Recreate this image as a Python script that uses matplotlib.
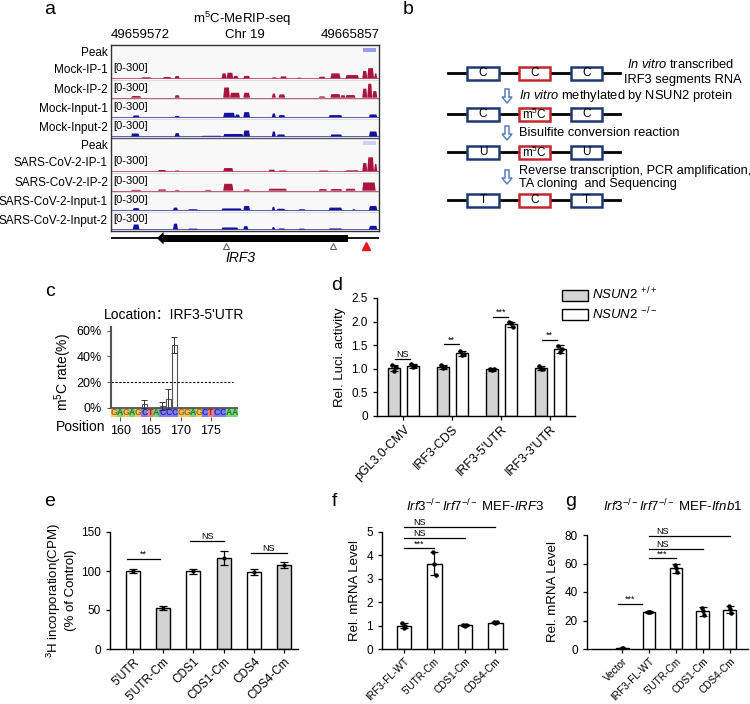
import matplotlib.pyplot as plt
from matplotlib.patches import Rectangle, FancyArrow, Polygon

plt.rcParams['font.family'] = ['Liberation Sans', 'DejaVu Sans']
plt.rcParams['mathtext.fontset'] = 'custom'
plt.rcParams['mathtext.rm'] = 'Liberation Sans'
plt.rcParams['mathtext.it'] = 'Liberation Sans:italic'
plt.rcParams['mathtext.bf'] = 'Liberation Sans:bold'

W, H = 750, 704

# ---- panel a: coverage blocks (start, end, height 0-1 of [0-300]) on an 800-bin window
mock_ip1 = [(90, 120, .06), (155, 180, .08), (190, 205, .14), (330, 345, .3), (345, 365, .34),
            (365, 380, .15), (395, 415, .15), (480, 495, .06), (505, 525, .12), (555, 570, .04),
            (620, 640, .1), (655, 685, .3), (700, 740, .2), (750, 765, .45), (765, 785, .62), (785, 795, .3)]
mock_ip2 = [(60, 90, .1), (190, 205, .15), (335, 355, .62), (355, 385, .3), (395, 415, .3),
            (480, 492, .25), (500, 520, .2), (620, 640, .08), (655, 685, .22), (685, 700, .15),
            (700, 730, .16), (750, 765, .55), (765, 780, .85), (780, 795, .4)]
mock_in1 = [(65, 85, .1), (190, 205, .07), (335, 370, .26), (370, 385, .15), (395, 415, .3),
            (480, 492, .22), (500, 520, .12), (650, 690, .12), (770, 795, .16)]
mock_in2 = [(60, 85, .18), (190, 205, .2), (270, 330, .04), (335, 395, .15), (395, 415, .36),
            (480, 492, .3), (495, 520, .12), (655, 690, .12), (770, 795, .3)]
sars_ip1 = [(140, 165, .08), (190, 205, .05), (335, 365, .2), (470, 490, .1), (500, 525, .05),
            (620, 650, .05), (700, 740, .06), (750, 765, .5), (765, 785, .85), (785, 795, .45)]
sars_ip2 = [(60, 90, .05), (140, 165, .08), (190, 205, .05), (280, 300, .05), (335, 365, .42),
            (395, 415, .08), (470, 525, .12), (620, 645, .1), (655, 690, .1), (700, 730, .12),
            (750, 790, .5)]
sars_in1 = [(65, 85, .12), (185, 200, .15), (230, 260, .05), (330, 390, .1), (395, 415, .25),
            (480, 490, .2), (495, 520, .08), (560, 580, .05), (650, 690, .15), (720, 730, .05),
            (770, 795, .25)]
sars_in2 = [(65, 85, .3), (185, 200, .35), (230, 260, .05), (330, 380, .12), (395, 410, .2),
            (480, 490, .15), (500, 520, .06), (560, 580, .05), (650, 690, .06), (770, 795, .22)]
mock_peak = [(752, 790)]
sars_peak = [(752, 790)]
irf3_gene = (153, 707)
hollow_sites = [342, 662]
red_sites = [761]

# ---- panel c
seq = 'GAGAGCTACCCGGAGCTCCAA'
seq_start = 159
c_pos = [164, 167, 168, 169]
c_rate = [3, 1.5, 7, 49]
c_err = [3, 3, 8, 6]

# ---- panel d
d_labels = ['pGL3.0-CMV', 'IRF3-CDS', "IRF3-5'UTR", "IRF3-3'UTR"]
d_wt = [1.02, 1.04, 0.99, 1.01]
d_wt_err = [0.07, 0.04, 0.03, 0.04]
d_wt_reps = [[1.08, 0.95, 1.03], [1.08, 1.01, 1.03], [1.0, 0.98, 1.0], [1.05, 1.0, 0.99]]
d_ko = [1.06, 1.33, 1.94, 1.42]
d_ko_err = [0.04, 0.05, 0.06, 0.08]
d_ko_reps = [[1.1, 1.03, 1.06], [1.38, 1.3, 1.32], [2.0, 1.98, 1.88], [1.49, 1.36, 1.43]]

# ---- panel e
e_labels = ["5'UTR", "5'UTR-Cm", 'CDS1', 'CDS1-Cm', 'CDS4', 'CDS4-Cm']
e_vals = [100, 52.5, 99.5, 117, 99, 108]
e_err = [2, 2, 3.5, 9, 4, 4]

# ---- panel f
f_labels = ['IRF3-FL-WT', "5'UTR-Cm", 'CDS1-Cm', 'CDS4-Cm']
f_vals = [1.0, 3.65, 1.02, 1.13]
f_err = [0.12, 0.5, 0.04, 0.04]
f_reps = [[1.1, 0.9, 1.0], [4.15, 3.65, 3.15], [1.03, 1.0, 1.04], [1.15, 1.12, 1.14]]

# ---- panel g
g_labels = ['Vector', 'IRF3-FL-WT', "5'UTR-Cm", 'CDS1-Cm', 'CDS4-Cm']
g_vals = [0.5, 26, 56.5, 26.5, 27.5]
g_err = [0.5, 0.5, 3, 3, 2.5]
g_reps = [[0.3, 0.7, 0.6], [26, 26.3, 25.8], [59, 57, 54], [29, 27, 24], [30, 28, 25]]

RED = '#a8163f'
BLUE = '#12129a'

fig = plt.figure(figsize=(W / 100, H / 100), dpi=100)


def px_axes(l, t, r, b):
    return fig.add_axes([l / W, 1 - b / H, (r - l) / W, (b - t) / H])


ax0 = fig.add_axes([0, 0, 1, 1])
ax0.set_xlim(0, W)
ax0.set_ylim(H, 0)
ax0.axis('off')

for lab, x, y in [('a', 50, 10), ('b', 408, 10), ('c', 50, 292), ('d', 337, 286),
                  ('e', 50, 502), ('f', 334, 502), ('g', 571, 502)]:
    ax0.text(x, y, lab, fontsize=14, ha='center', va='center')

# ================= panel a
ax0.text(242, 19, 'm$^5$C-MeRIP-seq', fontsize=9.5, ha='center', va='center')
ax0.text(140, 35, '49659572', fontsize=9.5, ha='center', va='center')
ax0.text(245, 35, 'Chr 19', fontsize=9.5, ha='center', va='center')
ax0.text(350, 35, '49665857', fontsize=9.5, ha='center', va='center')

axa = px_axes(111, 45, 379, 231)
axa.set_xlim(0, 800)
axa.set_ylim(9.6, 0)
axa.set_facecolor('#f8f8f9')
axa.set_xticks([])
axa.set_yticks([])
for s in axa.spines.values():
    s.set_color('#333333')
    s.set_linewidth(1.0)

layout = [('peak', 'Peak', mock_peak, '#9c9cee'),
          ('track', 'Mock-IP-1', mock_ip1, RED),
          ('track', 'Mock-IP-2', mock_ip2, RED),
          ('track', 'Mock-Input-1', mock_in1, BLUE),
          ('track', 'Mock-Input-2', mock_in2, BLUE),
          ('peak', 'Peak', sars_peak, '#d0d0f6'),
          ('track', 'SARS-CoV-2-IP-1', sars_ip1, RED),
          ('track', 'SARS-CoV-2-IP-2', sars_ip2, RED),
          ('track', 'SARS-CoV-2-Input-1', sars_in1, BLUE),
          ('track', 'SARS-CoV-2-Input-2', sars_in2, BLUE)]
y = 0
for kind, name, blocks, color in layout:
    h = 0.8 if kind == 'peak' else 1.0
    axa.text(-9, y + h / 2, name, ha='right', va='center', fontsize=8.5, clip_on=False)
    if kind == 'peak':
        for s, e in blocks:
            axa.add_patch(Rectangle((s, y + 0.17), e - s, 0.17, color=color, lw=0))
    else:
        base = y + 0.92
        axa.plot([0, 800], [base, base], color=color, lw=0.6, alpha=0.8)
        for s, e, hh in blocks:
            # small ramps on each side so the coverage looks less boxy
            top = base - hh * 0.85
            axa.add_patch(Polygon([(s, base), (s + 3, top), (e - 3, top), (e, base)],
                                  color=color, lw=0))
        axa.text(8, y + 0.4, '[0-300]', fontsize=8, va='center')
        axa.plot([0, 800], [y + h, y + h], color='#d8d8d8', lw=0.6)
    y += h
axa.plot([0, 800], [4.8, 4.8], color='#555555', lw=1.0)

axg = px_axes(111, 230, 379, 266)
axg.set_xlim(0, 800)
axg.set_ylim(266, 230)
axg.axis('off')
axg.plot([0, 800], [238, 238], color='k', lw=1.3)
axg.add_patch(Rectangle((irf3_gene[0], 235), irf3_gene[1] - irf3_gene[0], 6.5, color='k', lw=0))
axg.add_patch(Polygon([(irf3_gene[0] - 16, 238.2), (irf3_gene[0] + 4, 232),
                       (irf3_gene[0] + 4, 244.4)], color='k', lw=0))
axg.plot(hollow_sites, [246] * len(hollow_sites), '^', ms=5, mfc='white', mec='#555555', mew=0.7)
axg.plot(red_sites, [246] * len(red_sites), '^', ms=5.5, color='#e8141c')
axg.text(386, 258, 'IRF3', fontsize=10, style='italic', ha='center', va='center')

# ================= panel b
rows_b = [['C', 'C', 'C'], ['C', 'm$^5$C', 'C'], ['U', 'm$^5$C', 'U'], ['T', 'C', 'T']]
row_y = [73, 114, 152, 200]
box_x = [(467, 499), (519, 550), (571, 602)]
box_ec = ['#1f3a70', '#c0282e', '#1f3a70']
for labels, yy in zip(rows_b, row_y):
    ax0.plot([448, 620], [yy, yy], color='k', lw=2)
    for (x0, x1), lab, ec in zip(box_x, labels, box_ec):
        ax0.add_patch(Rectangle((x0, yy - 6.5), x1 - x0, 13, fc='white', ec=ec, lw=1.8, zorder=3))
        ax0.text((x0 + x1) / 2, yy, lab, ha='center', va='center', fontsize=8.5, zorder=4)
for y0 in [89, 126, 170]:
    ax0.add_patch(FancyArrow(507, y0, 0, 14, width=4, head_width=10, head_length=6,
                             length_includes_head=True, fc='white', ec='#5b7db8', lw=1.1, zorder=4))
ax0.text(627, 64, r'$\it{In\ vitro}$ transcribed', fontsize=9.3, va='center')
ax0.text(624, 80, 'IRF3 segments RNA', fontsize=9.3, va='center')
ax0.text(519, 96, r'$\it{In\ vitro}$ methylated by NSUN2 protein', fontsize=9.3, va='center')
ax0.text(519, 133, 'Bisulfite conversion reaction', fontsize=9.3, va='center')
ax0.text(519, 171, 'Reverse transcription, PCR amplification,', fontsize=9.2, va='center')
ax0.text(519, 184, 'TA cloning  and Sequencing', fontsize=9.2, va='center')

# ================= panel c
axc = px_axes(111, 327, 238, 417)
axc.set_xlim(seq_start - 0.5, seq_start + len(seq) - 0.5)
axc.set_ylim(-7.2, 63)
for s in ['top', 'right', 'bottom']:
    axc.spines[s].set_visible(False)
axc.spines['left'].set_bounds(0, 63)
axc.spines['left'].set_color('#555555')
axc.spines['left'].set_linewidth(1.5)
axc.axhline(0, color='#555555', lw=1.3)
bg = {'G': '#f4c66c', 'A': '#7fd07f', 'C': '#8080ec', 'T': '#ea8080'}
fg = {'G': '#9a6a00', 'A': '#1e7a1e', 'C': '#2525b0', 'T': '#b02020'}
for i, ch in enumerate(seq):
    p = seq_start + i
    axc.add_patch(Rectangle((p - 0.5, -7.2), 1, 7.2, color=bg[ch], lw=0))
    axc.text(p, -3.4, ch, ha='center', va='center', fontsize=6.2, color=fg[ch], fontweight='bold')
axc.bar(c_pos, c_rate, width=0.85, color='white', edgecolor='#555555', lw=0.8,
        yerr=c_err, error_kw=dict(ecolor='#333333', elinewidth=0.7, capsize=2, capthick=0.7))
axc.plot([seq_start - 0.5, seq_start + len(seq) - 1.3], [20, 20], color='k', lw=0.8, ls=(0, (2, 1.5)))
axc.set_yticks([0, 20, 40, 60])
axc.set_yticklabels(['0%', '20%', '40%', '60%'], fontsize=9)
axc.set_xticks([160, 165, 170, 175])
axc.set_xticklabels(['160', '165', '170', '175'], fontsize=9)
axc.tick_params(axis='x', length=3, color='#555555', pad=3)
axc.tick_params(axis='y', length=3, color='#555555')
axc.set_ylabel('m$^5$C rate(%)', fontsize=10, labelpad=2)
axc.set_title("Location\uff1aIRF3-5'UTR", fontsize=10, pad=6,
              family=['Liberation Sans', 'Noto Sans CJK SC'])
ax0.text(105, 427, 'Position', fontsize=10, ha='right', va='center')


def style_bar_axes(ax, xfs=8.5):
    for s in ['top', 'right']:
        ax.spines[s].set_visible(False)
    for s in ['left', 'bottom']:
        ax.spines[s].set_linewidth(1.0)
    ax.tick_params(axis='y', labelsize=8.5, length=3, width=0.9)
    ax.tick_params(axis='x', labelsize=xfs, length=3, width=0.9, pad=2)


def sig(ax, x1, x2, y, label, lx=None):
    ax.plot([x1, x2], [y, y], color='k', lw=0.9, clip_on=False)
    ax.text((x1 + x2) / 2 if lx is None else lx, y, label, ha='center', va='bottom',
            fontsize=6.5, clip_on=False)


def dots(ax, xs, reps):
    for x, r in zip(xs, reps):
        ax.plot([x - 0.05, x, x + 0.05], r, 'o', ms=2.2, color='k', zorder=5)


# ================= panel d
axd = px_axes(377, 298, 575, 416)
xs = list(range(len(d_labels)))
off = 0.194
xw = [x - off for x in xs]
xk = [x + off for x in xs]
ek = dict(ecolor='k', elinewidth=0.9, capsize=3, capthick=0.9)
axd.bar(xw, d_wt, width=0.245, color='#d3d3d3', edgecolor='k', lw=1.0, yerr=d_wt_err,
        error_kw=ek, label=r'$\it{NSUN2}$ $^{+/+}$')
axd.bar(xk, d_ko, width=0.245, color='white', edgecolor='k', lw=1.0, yerr=d_ko_err,
        error_kw=ek, label=r'$\it{NSUN2}$ $^{-/-}$')
dots(axd, xw, d_wt_reps)
dots(axd, xk, d_ko_reps)
axd.set_xlim(-0.54, 3.5)
axd.set_ylim(0, 2.5)
axd.set_yticks([0, 0.5, 1.0, 1.5, 2.0, 2.5])
axd.set_yticklabels(['0', '0.5', '1.0', '1.5', '2.0', '2.5'])
axd.set_xticks(xs)
axd.set_xticklabels(d_labels, rotation=45, ha='right', rotation_mode='anchor')
style_bar_axes(axd, 9)
axd.set_ylabel('Rel. Luci. activity', fontsize=9.5)
for x, yv, lab in zip(xs, [1.21, 1.52, 2.1, 1.62], ['NS', '**', '***', '**']):
    sig(axd, x - 0.17, x + 0.14, yv, lab)
axd.legend(loc='upper left', bbox_to_anchor=(562 / W, 1 - 286 / H), bbox_transform=fig.transFigure,
           frameon=False, fontsize=9.5, handlelength=2.0, handleheight=0.9, borderpad=0,
           labelspacing=0.25, handletextpad=0.3, borderaxespad=0)

# ================= panel e
axe = px_axes(110, 532, 298, 649)
xe = list(range(len(e_labels)))
axe.bar(xe, e_vals, width=0.46, color=['white', '#d3d3d3'] * 3, edgecolor='k', lw=1.0,
        yerr=e_err, error_kw=ek)
axe.plot(xe, e_vals, 'o', ms=2, color='k')
axe.set_xlim(-0.76, 5.46)
axe.set_ylim(0, 150)
axe.set_yticks([0, 50, 100, 150])
axe.set_xticks(xe)
axe.set_xticklabels(e_labels, rotation=45, ha='right', rotation_mode='anchor')
style_bar_axes(axe, 8.5)
axe.set_ylabel('$^3$H incorporation(CPM)\n(% of Control)', fontsize=9.5, labelpad=3)
sig(axe, -0.2, 0.9, 116, '**')
sig(axe, 1.9, 3.0, 138, 'NS')
sig(axe, 3.9, 5.1, 123, 'NS')

# ================= panel f
axf = px_axes(382, 532, 507, 649)
xf = list(range(len(f_labels)))
axf.bar(xf, f_vals, width=0.48, color='white', edgecolor='k', lw=1.0, yerr=f_err, error_kw=ek)
dots(axf, xf, f_reps)
axf.set_xlim(-0.72, 3.38)
axf.set_ylim(0, 5)
axf.set_yticks([0, 1, 2, 3, 4, 5])
axf.set_xticks(xf)
axf.set_xticklabels(f_labels, rotation=45, ha='right', rotation_mode='anchor')
style_bar_axes(axf, 7.2)
axf.set_ylabel('Rel. mRNA Level', fontsize=9.5)
sig(axf, 0, 1, 4.3, '***', lx=0.5)
sig(axf, 0, 2, 4.74, 'NS', lx=0.5)
sig(axf, 0, 3, 5.2, 'NS', lx=0.5)
ax0.text(475, 506, r'$\it{Irf3}^{-/-}\it{Irf7}^{-/-}$ MEF-$\it{IRF3}$', fontsize=9.5,
         ha='center', va='center')

# ================= panel g
axgg = px_axes(587, 535, 748, 649)
xg = list(range(len(g_labels)))
axgg.bar(xg, g_vals, width=0.48, color='white', edgecolor='k', lw=1.0, yerr=g_err, error_kw=ek)
dots(axgg, xg, g_reps)
axgg.set_xlim(-1.3, 4.67)
axgg.set_ylim(0, 80)
axgg.set_yticks([0, 20, 40, 60, 80])
axgg.set_xticks(xg)
axgg.set_xticklabels(g_labels, rotation=45, ha='right', rotation_mode='anchor')
style_bar_axes(axgg, 7.2)
axgg.set_ylabel('Rel. mRNA Level', fontsize=9.5)
sig(axgg, -0.15, 0.75, 31.6, '***')
sig(axgg, 1, 2, 63.6, '***', lx=1.5)
sig(axgg, 1, 3, 70.2, 'NS', lx=1.5)
sig(axgg, 1, 4, 79.3, 'NS', lx=1.5)
ax0.text(673, 506, r'$\it{Irf3}^{-/-}\it{Irf7}^{-/-}$ MEF-$\it{Ifnb1}$', fontsize=9.5,
         ha='center', va='center')

fig.savefig('out.png', dpi=100)
